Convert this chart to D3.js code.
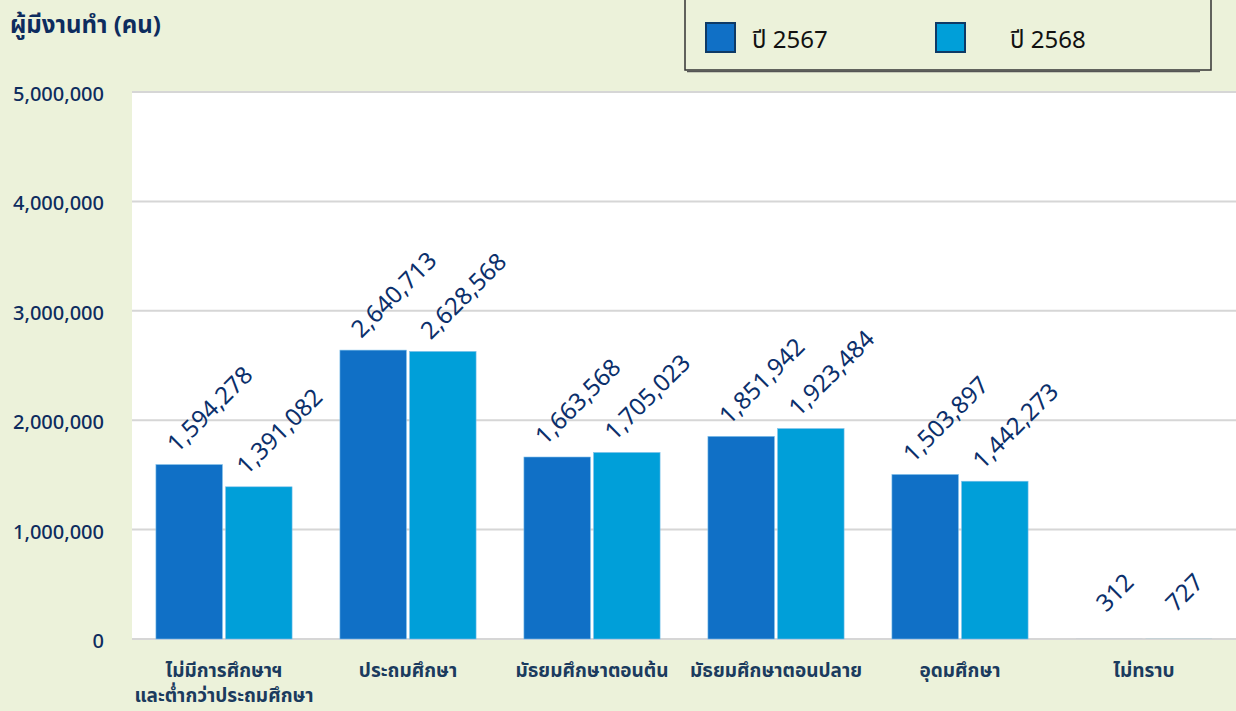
<!DOCTYPE html>
<html><head><meta charset="utf-8">
<script src="https://cdn.jsdelivr.net/npm/d3@7"></script>
<style>
body{margin:0;background:#ECF2DA;}
svg{display:block;font-family:Tahoma,"Noto Sans Thai","Noto Sans",sans-serif;}
</style></head><body>
<svg id="c" width="1236" height="711"></svg>
<script>
const categories = [["ไม่มีการศึกษาฯ","และต่ำกว่าประถมศึกษา"],["ประถมศึกษา"],["มัธยมศึกษาตอนต้น"],["มัธยมศึกษาตอนปลาย"],["อุดมศึกษา"],["ไม่ทราบ"]];
const seriesNames = ["ปี 2567","ปี 2568"];
const y2567 = [1594278,2640713,1663568,1851942,1503897,312];
const y2568 = [1391082,2628568,1705023,1923484,1442273,727];
const yTicks = [0,1000000,2000000,3000000,4000000,5000000];
const colors = ["#1070C6","#009FD9"];

const svg = d3.select("#c");
const L=132,R=1236,T=92,B=639;
svg.append("rect").attr("x",L).attr("y",T).attr("width",R-L).attr("height",B-T).attr("fill","#fff");
const x = d3.scaleBand().domain(d3.range(categories.length)).range([L,R]).paddingInner(0.26).paddingOuter(0.13);
const xs = d3.scaleBand().domain([0,1]).range([0,x.bandwidth()]).paddingInner(0.045);
const y = d3.scaleLinear().domain([0,5000000]).range([B,T]);
const fmt = d3.format(",");

// grid
svg.append("g").selectAll("line").data(yTicks).join("line")
  .attr("x1",L).attr("x2",R).attr("y1",d=>y(d)).attr("y2",d=>y(d))
  .attr("stroke","#D6D6D6").attr("stroke-width",2);
// y labels
svg.append("g").selectAll("text").data(yTicks).join("text")
  .attr("x",104).attr("y",d=>y(d)+2).attr("dy","0.35em").attr("text-anchor","end")
  .attr("font-size",20).attr("fill","#0D2C5E").attr("font-weight",500).text(d=>fmt(d));

const series=[y2567,y2568];
series.forEach((vals,si)=>{
  const g=svg.append("g");
  g.selectAll("rect").data(vals).join("rect")
   .attr("x",(d,i)=>x(i)+xs(si)).attr("width",xs.bandwidth())
   .attr("y",d=>y(d)).attr("height",d=>B-y(d))
   .attr("fill",colors[si]).attr("stroke",d=>B-y(d)>1?"#7FC0EA":"none").attr("stroke-width",0.6);
  g.selectAll("text").data(vals).join("text")
   .attr("transform",(d,i)=>{
      const small = y(d)-11 > B-26;
      const cx = x(i)+xs(si)+xs.bandwidth()/2 + (small?-3:-12);
      const cy = small ? B-26 : y(d)-11;
      return `translate(${cx},${cy}) rotate(-45)`;})
   .attr("font-size",24).attr("fill","#0B2F6B").text(d=>fmt(d));
});

// x labels
categories.forEach((lines,i)=>{
  lines.forEach((s,j)=>svg.append("text").attr("x",x(i)+x.bandwidth()/2).attr("y",677+j*25)
   .attr("text-anchor","middle").attr("font-size",19).attr("font-weight","bold").attr("fill","#1B3B5E").text(s));
});

// title
svg.append("text").attr("x",10).attr("y",33).attr("font-size",24).attr("font-weight","bold").attr("fill","#0D2C5E").text("ผู้มีงานทำ (คน)");

// legend
svg.append("rect").attr("x",685).attr("y",-2).attr("width",526).attr("height",72)
  .attr("fill","none").attr("stroke","#333").attr("stroke-width",1.5);
svg.append("line").attr("x1",687).attr("x2",1200).attr("y1",71.5).attr("y2",71.5).attr("stroke","#555").attr("stroke-width",1.5);
const lx=[706,936], tx=[752,1010];
seriesNames.forEach((s,i)=>{
  svg.append("rect").attr("x",lx[i]).attr("y",23).attr("width",29).attr("height",29)
   .attr("fill",colors[i]).attr("stroke","#0E3A66").attr("stroke-width",2);
  svg.append("text").attr("x",tx[i]).attr("y",40).attr("dy","0.35em").attr("font-size",24).attr("fill","#111").text(s);
});
</script></body></html>
